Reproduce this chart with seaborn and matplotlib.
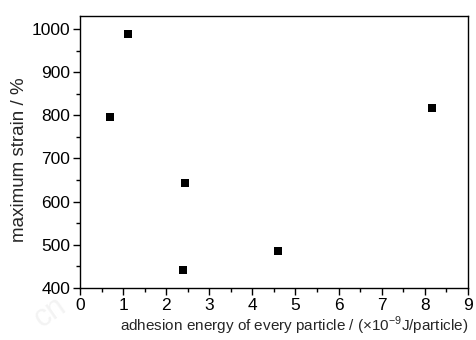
import matplotlib
matplotlib.use("Agg")
import matplotlib.pyplot as plt
import seaborn as sns
import pandas as pd
from matplotlib.ticker import MultipleLocator

# data
energy = [0.70, 1.11, 2.44, 2.38, 4.60, 8.16]
strain = [796, 988, 643, 441, 486, 818]

df = pd.DataFrame({"energy": energy, "strain": strain})

sns.set_style("ticks")
plt.rcParams['font.family'] = ['Liberation Sans', 'DejaVu Sans']
plt.rcParams['mathtext.fontset'] = 'custom'
plt.rcParams['mathtext.rm'] = 'Liberation Sans'

fig = plt.figure(figsize=(4.76, 3.40), dpi=100)
ax = fig.add_axes([0.168, 0.153, 0.815, 0.800])

sns.scatterplot(data=df, x="energy", y="strain", marker="s", s=38,
                color="black", edgecolor="black", linewidth=0, ax=ax)

ax.set_xlim(0, 9)
ax.set_ylim(400, 1030)
ax.xaxis.set_major_locator(MultipleLocator(1))
ax.xaxis.set_minor_locator(MultipleLocator(0.5))
ax.yaxis.set_major_locator(MultipleLocator(100))
ax.yaxis.set_minor_locator(MultipleLocator(50))
ax.tick_params(which="both", direction="out", width=1, colors="black", labelsize=12.5)
ax.tick_params(which="major", length=5, pad=2)
ax.tick_params(which="minor", length=3)
for sp in ax.spines.values():
    sp.set_visible(True)
    sp.set_linewidth(1)
    sp.set_color("black")

ax.set_xlabel(r"adhesion energy of every particle / ($\times$10$^{-9}$J/particle)", fontsize=11)
ax.xaxis.set_label_coords(0.553, -0.1)
ax.set_ylabel("maximum strain / %", fontsize=13.5)
ax.yaxis.set_label_coords(-0.135, 0.47)

# faint watermark
fig.text(0.06, 0.04, "cn", fontsize=22, color="#f3f3f3", rotation=35, zorder=0)

fig.savefig("out.png", dpi=100)
